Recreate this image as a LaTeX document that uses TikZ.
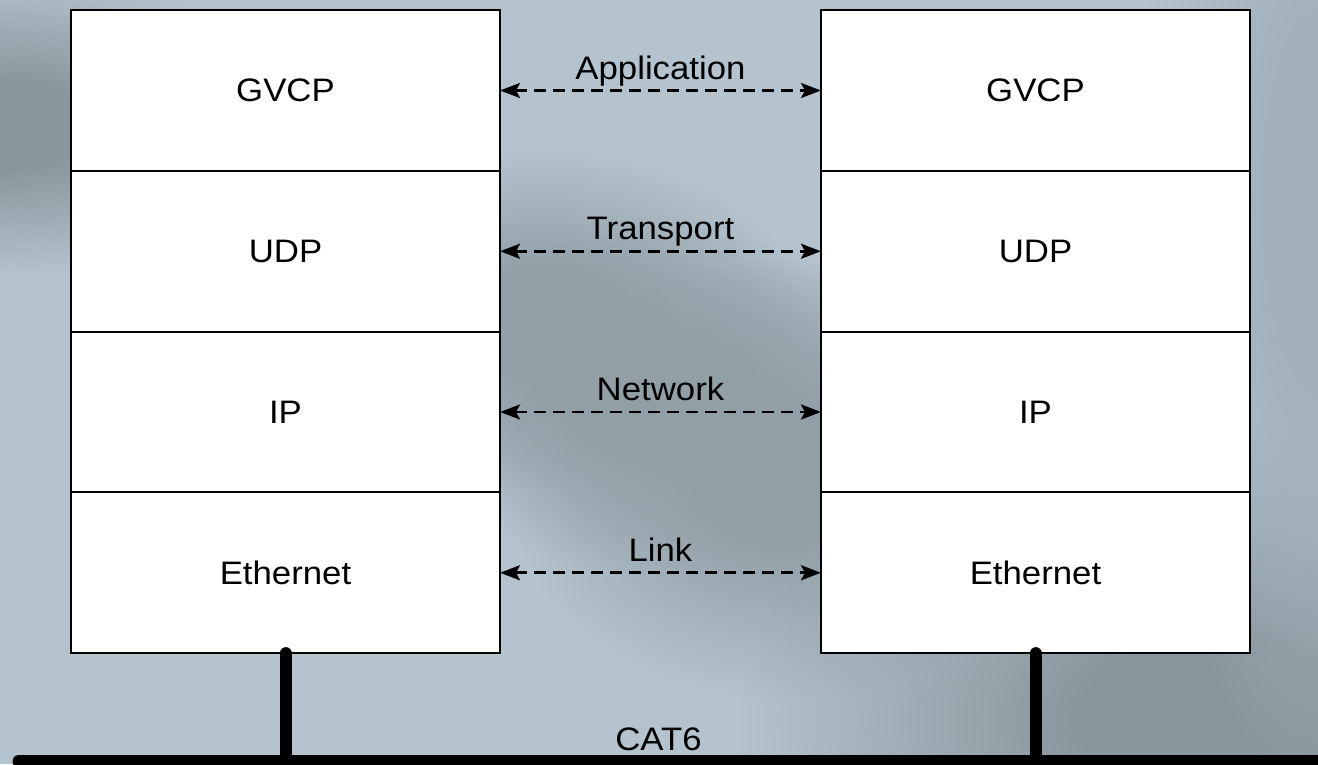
\documentclass[tikz,border=0pt]{standalone}
\usepackage{fontspec}
\setmainfont{Liberation Sans}[FakeStretch=1.07]
\usetikzlibrary{arrows.meta,fadings}

\definecolor{bgbase}{HTML}{B4C3CE}
\definecolor{bgdark}{HTML}{8A969D}
\definecolor{bgdim}{HTML}{939FA7}
\definecolor{bgmid}{HTML}{A2B1BC}

% soft patch: opaque core, fading out towards its rim
\pgfdeclareradialshading{blobshade}{\pgfpointorigin}{color(0bp)=(white); color(7bp)=(white); color(25bp)=(black); color(50bp)=(black)}
\pgfdeclarefading{flatblob}{\pgfuseshading{blobshade}}

\tikzset{
  txt/.style={font=\fontsize{32.5}{39}\selectfont, text=black},
  layer/.style={txt, draw=black, line width=2pt, fill=white, outer sep=0pt,
                minimum width=429pt, minimum height=160.75pt, inner sep=0pt},
  peer/.style={line width=2.6pt, dash pattern=on 12pt off 7pt,
               {Stealth[length=20pt,width=15pt,inset=4pt]}-{Stealth[length=20pt,width=15pt,inset=4pt]}},
  lbl/.style={txt, inner sep=0pt, anchor=base},
  cable/.style={line width=12pt, line cap=round},
  blob/.style={fill=#1, path fading=flatblob},
}

\begin{document}
\begin{tikzpicture}[x=1pt,y=-1pt]
  \useasboundingbox (0,0) rectangle (1318,764);

  % backdrop
  \fill[bgbase] (0,0) rectangle (1318,764);
  \begin{scope}
    \clip (0,0) rectangle (1318,764);
    \fill[blob=bgdark] (0,125) ellipse [x radius=320, y radius=150];
    \fill[blob=bgdim]  (545,320) ellipse [x radius=260, y radius=170];
    \fill[blob=bgdim]  (665,400) ellipse [x radius=260, y radius=170];
    \fill[blob=bgdim]  (785,480) ellipse [x radius=280, y radius=220];
    \fill[blob=bgdark] (1220,720) ellipse [x radius=480, y radius=300];
    \fill[blob=bgmid]  (1318,200) ellipse [x radius=180, y radius=600];
  \end{scope}

  % left protocol stack
  \node[layer] (l1) at (285.5, 90.5)  {GVCP};
  \node[layer] (l2) at (285.5, 251.25) {UDP};
  \node[layer] (l3) at (285.5, 412)   {IP};
  \node[layer] (l4) at (285.5, 572.75) {Ethernet};

  % right protocol stack
  \node[layer] (r1) at (1035.5, 90.5)  {GVCP};
  \node[layer] (r2) at (1035.5, 251.25) {UDP};
  \node[layer] (r3) at (1035.5, 412)   {IP};
  \node[layer] (r4) at (1035.5, 572.75) {Ethernet};

  % peer-to-peer relations between matching layers
  \draw[peer] (l1.east) -- node[lbl, yshift=11.5pt] (app) {Application} (r1.west);
  \draw[peer] (l2.east) -- node[lbl, yshift=11.5pt] (trn) {Transport} (r2.west);
  \draw[peer] (l3.east) -- node[lbl, yshift=11.5pt] (net) {Network} (r3.west);
  \draw[peer] (l4.east) -- node[lbl, yshift=11.5pt] (lnk) {Link} (r4.west);

  % shared cable
  \coordinate (busW) at (19,761);
  \coordinate (busE) at (1340,761);
  \draw[cable, line width=13pt] (busW) -- (busE);
  \draw[cable] (l4.south) -- (l4.south |- busW);
  \draw[cable] (r4.south) -- (r4.south |- busW);
  \node[lbl] (cat) at (658.5,750) {CAT6};
\end{tikzpicture}
\end{document}
